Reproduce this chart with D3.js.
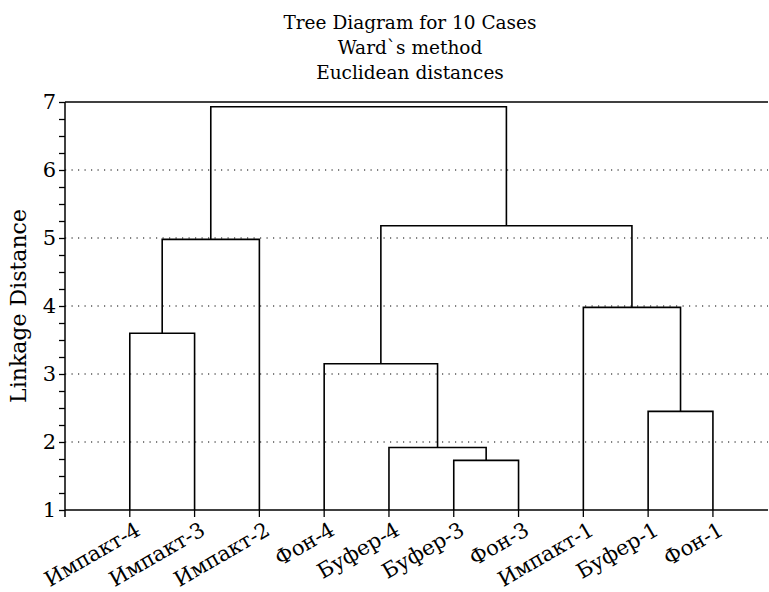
<!DOCTYPE html>
<html>
<head>
<meta charset="utf-8">
<script src="https://cdn.jsdelivr.net/npm/d3@7"></script>
<style>
    body { margin: 0; background: #fff; }
    text { font-family: "DejaVu Serif", serif; fill: #000; }
</style>
</head>
<body>
<div id="chart"></div>
<script>
// leaf order as drawn, left to right
const leaves = ['Импакт-4', 'Импакт-3', 'Импакт-2', 'Фон-4', 'Буфер-4',
                'Буфер-3', 'Фон-3', 'Импакт-1', 'Буфер-1', 'Фон-1'];
// merges: [left node, right node]; nodes 0..9 are leaves, 10+ are earlier merges
const mergeLeft = [0, 10, 5, 4, 3, 8, 7, 14, 11];
const mergeRight = [1, 2, 6, 12, 13, 9, 15, 16, 17];
const mergeHeight = [3.6, 4.98, 1.73, 1.92, 3.15, 2.45, 3.98, 5.18, 6.93];
const yTicks = [1, 2, 3, 4, 5, 6, 7];
const gridTicks = [2, 3, 4, 5, 6];
const titleLines = ['Tree Diagram for 10 Cases', 'Ward`s method', 'Euclidean distances'];

const W = 769, H = 592;
const margin = { left: 65, right: 1, top: 102, bottom: 82 };

const svg = d3.select('#chart').append('svg')
    .attr('width', W)
    .attr('height', H);

const x = d3.scaleLinear()
    .domain([-1, 9.85])
    .range([margin.left, W - margin.right]);

const y = d3.scaleLinear()
    .domain([1, 7])
    .range([H - margin.bottom, margin.top]);

// title
svg.append('g').selectAll('text')
    .data(titleLines)
    .enter()
    .append('text')
    .attr('x', 410)
    .attr('y', (d, i) => 29 + i * 25)
    .attr('text-anchor', 'middle')
    .style('font-size', '18.5px')
    .text(d => d);

// dotted grid
svg.append('g').selectAll('line')
    .data(gridTicks)
    .enter()
    .append('line')
    .attr('x1', margin.left)
    .attr('x2', W - margin.right)
    .attr('y1', d => y(d))
    .attr('y2', d => y(d))
    .attr('stroke', '#000')
    .attr('stroke-width', 1.2)
    .attr('stroke-dasharray', '1.2,5.3');

// top border
svg.append('line')
    .attr('x1', margin.left)
    .attr('x2', W - margin.right)
    .attr('y1', y(7))
    .attr('y2', y(7))
    .attr('stroke', '#000')
    .attr('stroke-width', 1.5);

// y axis
const yAxis = svg.append('g')
    .attr('transform', `translate(${margin.left},0)`)
    .call(d3.axisLeft(y)
        .tickValues(d3.range(1, 7.01, 0.25))
        .tickSize(6)
        .tickFormat(d => yTicks.includes(d) ? d : ''));
yAxis.select('.domain').remove();
yAxis.selectAll('.tick line').attr('stroke-width', 1.3);
yAxis.selectAll('.tick text')
    .attr('x', -9)
    .style('font-size', '21px')
    .style('font-family', '"DejaVu Serif", serif');

svg.append('line')
    .attr('x1', margin.left)
    .attr('x2', margin.left)
    .attr('y1', y(7))
    .attr('y2', y(1) + 7)
    .attr('stroke', '#000')
    .attr('stroke-width', 1.5);

svg.append('text')
    .attr('transform', `translate(26, ${(y(1) + y(7)) / 2}) rotate(-90)`)
    .attr('text-anchor', 'middle')
    .style('font-size', '22px')
    .text('Linkage Distance');

// x axis
svg.append('line')
    .attr('x1', margin.left)
    .attr('x2', W - margin.right)
    .attr('y1', y(1))
    .attr('y2', y(1))
    .attr('stroke', '#000')
    .attr('stroke-width', 1.5);

svg.append('g').selectAll('line')
    .data(leaves)
    .enter()
    .append('line')
    .attr('x1', (d, i) => x(i))
    .attr('x2', (d, i) => x(i))
    .attr('y1', y(1))
    .attr('y2', y(1) + 7)
    .attr('stroke', '#000')
    .attr('stroke-width', 1.3);

svg.append('g').selectAll('text')
    .data(leaves)
    .enter()
    .append('text')
    .attr('transform', (d, i) => `translate(${x(i) + 12}, ${y(1) + 24}) rotate(-30)`)
    .attr('text-anchor', 'end')
    .style('font-size', '21px')
    .text(d => d);

// dendrogram
const nodeX = leaves.map((d, i) => x(i));
const nodeH = leaves.map(() => 1);
const links = [];
mergeHeight.forEach((h, k) => {
    const a = mergeLeft[k], b = mergeRight[k];
    links.push([[nodeX[a], y(nodeH[a])], [nodeX[a], y(h)], [nodeX[b], y(h)], [nodeX[b], y(nodeH[b])]]);
    nodeX.push((nodeX[a] + nodeX[b]) / 2);
    nodeH.push(h);
});

svg.append('g').selectAll('path')
    .data(links)
    .enter()
    .append('path')
    .attr('d', d3.line())
    .attr('fill', 'none')
    .attr('stroke', '#000')
    .attr('stroke-width', 1.6);
</script>
</body>
</html>
